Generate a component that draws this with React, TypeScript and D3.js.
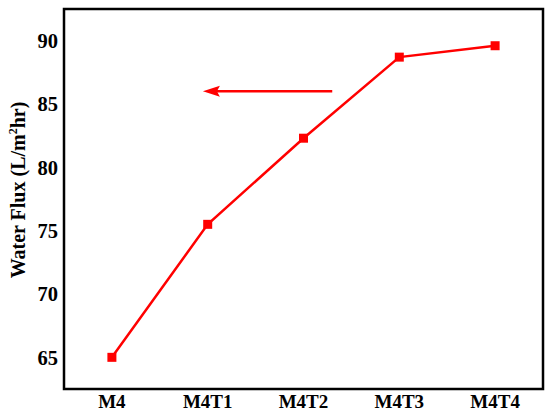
import React from 'react';
import * as d3 from 'd3';

const categories = ['M4', 'M4T1', 'M4T2', 'M4T3', 'M4T4'];
const flux = [65.0, 75.5, 82.3, 88.7, 89.6];
const yTicks = [65, 70, 75, 80, 85, 90];
const arrowFrom = { cat: 2.3, value: 86 };
const arrowTo = { cat: 0.95 };

const W = 550;
const H = 414;
const margin = { top: 9, right: 7, bottom: 25, left: 64 };

const App = () => {
  const x = d3
    .scalePoint<string>()
    .domain(categories)
    .range([margin.left, W - margin.right])
    .padding(0.5);
  const y = d3
    .scaleLinear()
    .domain([62.5, 92.5])
    .range([H - margin.bottom, margin.top]);

  const step = x.step();
  const catX = (c: number) => (x(categories[0]) as number) + c * step;

  const line = d3
    .line<number>()
    .x((d, i) => x(categories[i]) as number)
    .y(d => y(d));

  const ax0 = catX(arrowFrom.cat);
  const ax1 = catX(arrowTo.cat);
  const ay = y(arrowFrom.value);

  return (
    <svg
      width={W}
      height={H}
      style={{
        position: 'absolute',
        left: 0,
        top: 0,
        background: '#fff',
        fontFamily: '"Liberation Serif", "Times New Roman", Times, serif',
        fontWeight: 'bold',
      }}
    >
      <rect
        x={margin.left}
        y={margin.top}
        width={W - margin.left - margin.right}
        height={H - margin.top - margin.bottom}
        fill="none"
        stroke="#000"
        strokeWidth={2.5}
      />
      {yTicks.map(t => (
        <text key={t} x={58} y={y(t)} dy="0.35em" textAnchor="end" fontSize={20.5}>
          {t}
        </text>
      ))}
      {categories.map(c => (
        <text key={c} x={x(c)} y={H - 6.5} textAnchor="middle" fontSize={19}>
          {c}
        </text>
      ))}
      <text
        transform="translate(25,190) rotate(-90)"
        textAnchor="middle"
        fontSize={20}
      >
        Water Flux (L/m<tspan dy="-8" fontSize={12}>2</tspan>
        <tspan dy="8">hr)</tspan>
      </text>
      <path d={line(flux) ?? ''} fill="none" stroke="#ff0000" strokeWidth={2.5} />
      {flux.map((v, i) => (
        <rect
          key={i}
          x={(x(categories[i]) as number) - 4.5}
          y={y(v) - 4.5}
          width={9}
          height={9}
          fill="#ff0000"
        />
      ))}
      <line x1={ax0} y1={ay} x2={ax1 + 12} y2={ay} stroke="#ff0000" strokeWidth={2.5} />
      <path
        d={`M${ax1},${ay} L${ax1 + 17},${ay - 5.5} L${ax1 + 14},${ay} L${ax1 + 17},${ay + 5.5} Z`}
        fill="#ff0000"
      />
    </svg>
  );
};

export default App;
